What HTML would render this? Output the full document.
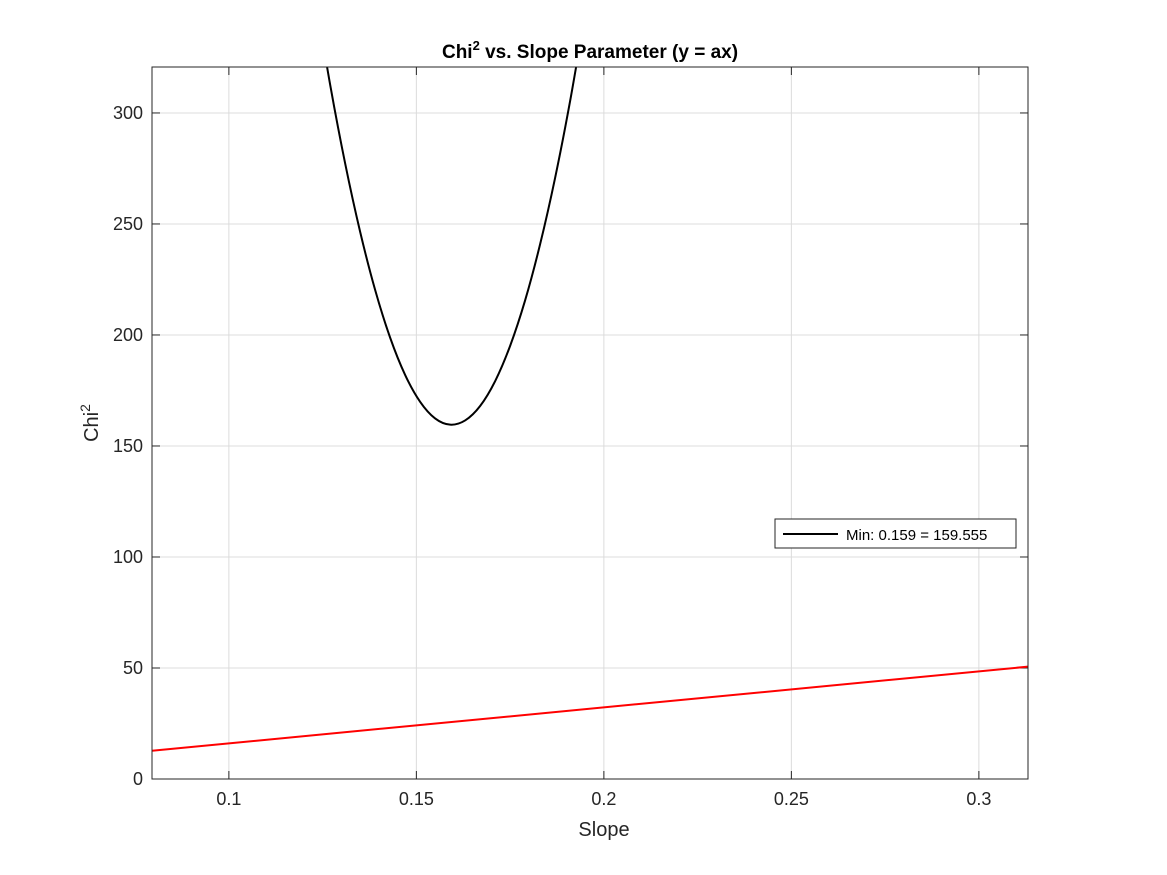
<!DOCTYPE html>
<html><head><meta charset="utf-8"><style>
body{margin:0;background:#fff;}
svg{display:block;font-family:"Liberation Sans",sans-serif;}
</style></head><body>
<svg id="chart" width="1167" height="875"></svg>
<script>
const xTicks=[0.1,0.15,0.2,0.25,0.3];
const yTicks=[0,50,100,150,200,250,300];
const curveSlope=[0.123,0.127,0.131,0.135,0.139,0.143,0.147,0.151,0.155,0.159,0.163,0.167,0.171,0.175,0.179,0.183,0.187,0.191,0.195];
const curveChi2=[353.0,312.8,277.3,246.5,220.3,198.8,182.0,169.9,162.4,159.6,161.5,168.0,179.2,195.1,215.6,240.9,270.8,305.4,344.6];
const lineSlope=[0.0795,0.3131];
const lineChi2=[12.72,50.6];
const legendLabel="Min: 0.159 = 159.555";

const L=152,R=1028,T=67,B=779,xmin=0.0795,xmax=0.3131,ymin=0,ymax=320.7;
const sx=v=>L+(v-xmin)/(xmax-xmin)*(R-L);
const sy=v=>B-(v-ymin)/(ymax-ymin)*(B-T);
const svg=document.getElementById('chart');
const NS='http://www.w3.org/2000/svg';
function mk(tag,attrs,parent){const e=document.createElementNS(NS,tag);for(const k in attrs)e.setAttribute(k,attrs[k]);(parent||svg).appendChild(e);return e;}

let bg=mk('rect',{x:L,y:T,width:R-L,height:B-T,fill:'#fff'});


const defs=mk('defs',{});
const cp=mk('clipPath',{id:'clip'},defs);mk('rect',{x:L,y:T,width:R-L,height:B-T},cp);

xTicks.forEach(v=>{
 const x=sx(v);
 let g=mk('line',{x1:x,x2:x,y1:T,y2:B,stroke:'#dcdcdc','stroke-width':1});
 
 
 mk('line',{x1:x,x2:x,y1:B,y2:B-8,stroke:'#262626'});
 mk('line',{x1:x,x2:x,y1:T,y2:T+8,stroke:'#262626'});
 let t=mk('text',{x:x,y:B+26,'text-anchor':'middle','font-size':18,fill:'#262626'});
 t.textContent=String(v);
 
 
});
yTicks.forEach(v=>{
 const y=sy(v);
 let g=mk('line',{x1:L,x2:R,y1:y,y2:y,stroke:'#dcdcdc','stroke-width':1});
 
 
 mk('line',{x1:L,x2:L+8,y1:y,y2:y,stroke:'#262626'});
 mk('line',{x1:R,x2:R-8,y1:y,y2:y,stroke:'#262626'});
 let t=mk('text',{x:L-9,y:y+6,'text-anchor':'end','font-size':18,fill:'#262626'});
 t.textContent=String(v);
 
 
});

const pts=curveSlope.map((s,i)=>[sx(s),sy(curveChi2[i])]);
let d='M'+pts[0][0]+','+pts[0][1];
for(let i=0;i<pts.length-1;i++){
 const p0=pts[Math.max(0,i-1)],p1=pts[i],p2=pts[i+1],p3=pts[Math.min(pts.length-1,i+2)];
 d+=` C${p1[0]+(p2[0]-p0[0])/6},${p1[1]+(p2[1]-p0[1])/6} ${p2[0]-(p3[0]-p1[0])/6},${p2[1]-(p3[1]-p1[1])/6} ${p2[0]},${p2[1]}`;
}
let c=mk('path',{d:d,fill:'none',stroke:'#000','stroke-width':2,'clip-path':'url(#clip)'});



let rl=mk('polyline',{points:lineSlope.map((s,i)=>sx(s)+','+sy(lineChi2[i])).join(' '),fill:'none',stroke:'#ff0000','stroke-width':2,'clip-path':'url(#clip)'});



let fr=mk('rect',{x:L,y:T,width:R-L,height:B-T,fill:'none',stroke:'#262626','stroke-width':1});



let lg=mk('g',{});


mk('rect',{x:775,y:519,width:241,height:29,fill:'#fff',stroke:'#262626','stroke-width':1},lg);
mk('line',{x1:783,x2:838,y1:534,y2:534,stroke:'#000','stroke-width':2},lg);
let lt=mk('text',{x:846,y:540,'font-size':15,fill:'#000'},lg);
lt.textContent=legendLabel;



let xt=mk('text',{x:604,y:836,'text-anchor':'middle','font-size':20,fill:'#262626'});
xt.textContent='Slope';



let yt=mk('text',{x:0,y:0,'text-anchor':'middle','font-size':20,fill:'#262626',transform:'translate(98,423) rotate(-90)'});
yt.innerHTML='Chi<tspan font-size="14" dy="-8">2</tspan>';



let tt=mk('text',{x:590,y:58,'text-anchor':'middle','font-size':19,'font-weight':'bold',fill:'#000'});
tt.innerHTML='Chi<tspan font-size="13" dy="-8">2</tspan><tspan dy="8"> vs. Slope Parameter (y = ax)</tspan>';


</script>
</body></html>
